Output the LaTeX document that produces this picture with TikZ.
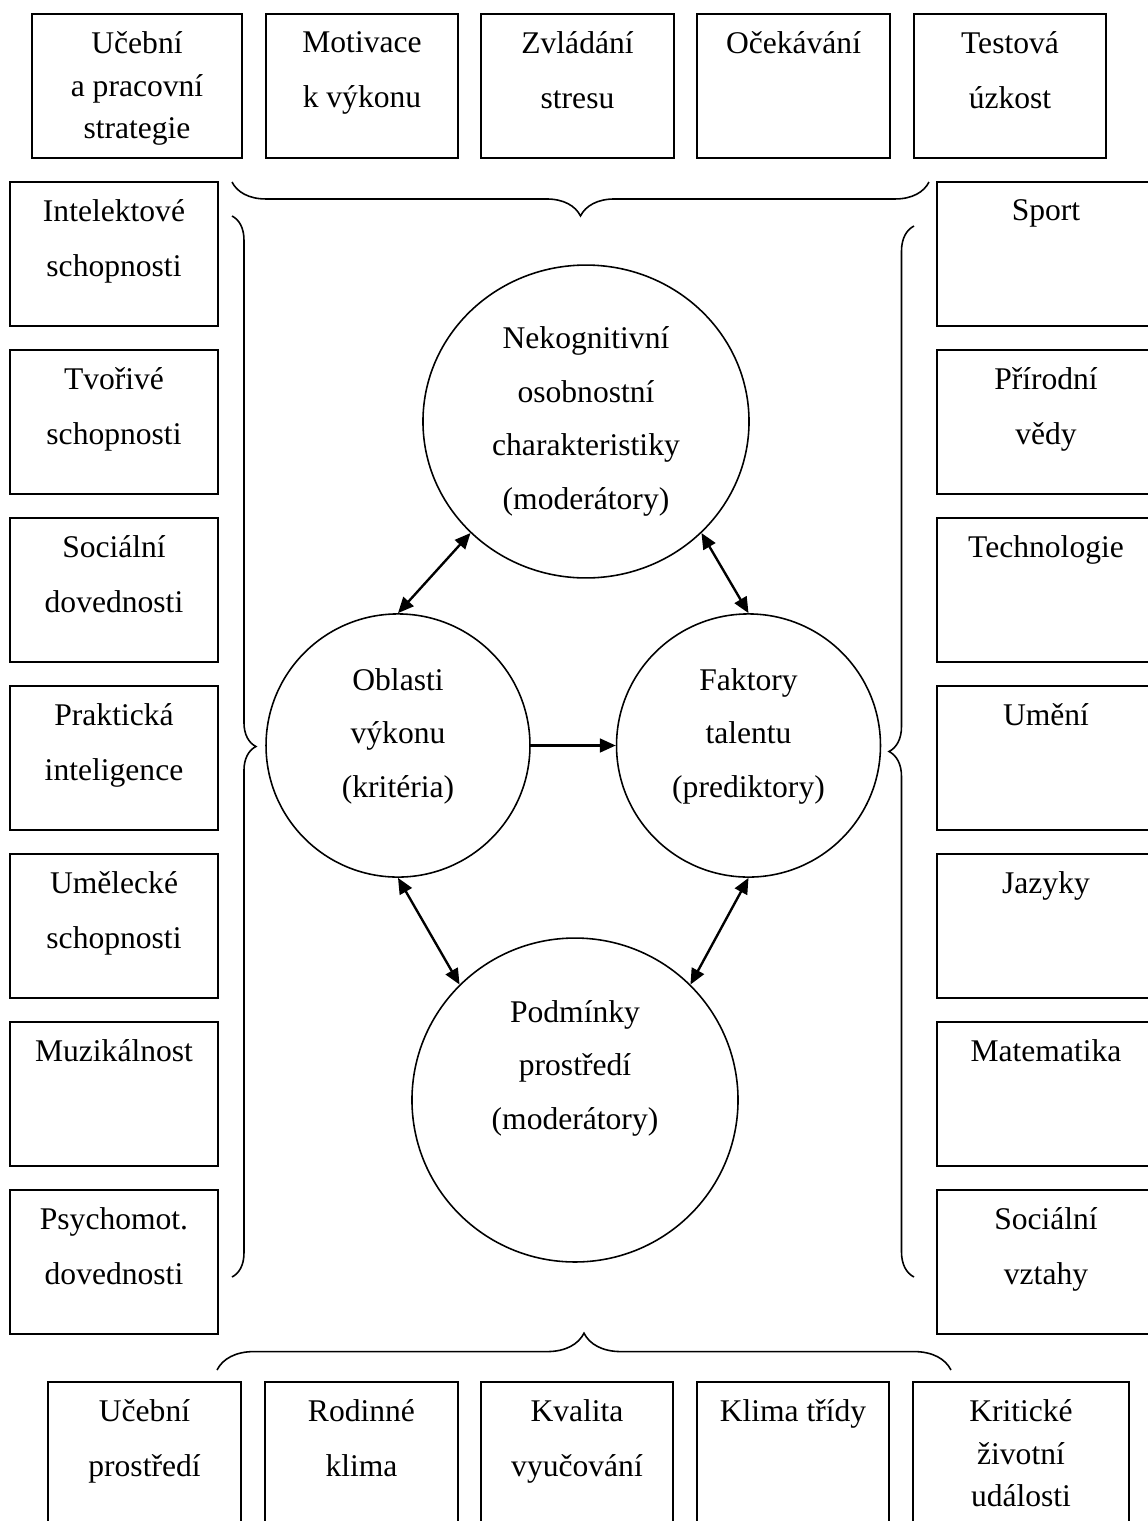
\documentclass[tikz,border=0pt]{standalone}
\usepackage{fontspec}
\setmainfont{Liberation Serif}
\usetikzlibrary{arrows.meta,shapes,positioning,decorations.pathreplacing}
\tikzstyle{box}=[draw,rectangle,line width=0.75pt,minimum height=54.7pt,inner sep=0pt]
\tikzstyle{box text}=[align=center,inner sep=0pt,font=\fontsize{12}{20.9}\selectfont]
\tikzstyle{area}=[draw,ellipse,line width=0.6pt,inner sep=0pt]
\tikzstyle{area text}=[box text,font=\fontsize{12}{20.4}\selectfont]
\tikzstyle{link}=[draw,line width=0.9pt,>={Triangle[length=6pt,width=5.2pt]}]
\tikzstyle{brace line}=[draw,line width=0.6pt,decorate]

\begin{document}
\begin{tikzpicture}[x=0.38pt,y=-0.38pt]
    \useasboundingbox (0,0) rectangle (1147,1521);

    % First we draw the boxes of the top row
    \foreach \pos/\name/\w/\txt in {{(137,86)/t1/79.8/Učební\\[-4.9pt]a pracovní\\[-4.9pt]strategie}, {(362,86)/t2/73.2/Motivace\\k výkonu}, {(577.5,86)/t3/73.3/Zvládání\\stresu}, {(793.5,86)/t4/73.3/Očekávání}, {(1010,86)/t5/73/Testová\\úzkost}}
    {
        \node[box,minimum width=\w pt] (\name) at \pos {};
        \node[box text,below=7pt of \name.north] (\name-t) {\txt};
    }

    % Left column
    \foreach \pos/\name/\txt in {{(114,254)/l1/Intelektové\\schopnosti}, {(114,422)/l2/Tvořivé\\schopnosti}, {(114,590)/l3/Sociální\\dovednosti}, {(114,758)/l4/Praktická\\inteligence}, {(114,926)/l5/Umělecké\\schopnosti}, {(114,1094)/l6/Muzikálnost}, {(114,1262)/l7/Psychomot.\\dovednosti}}
    {
        \node[box,minimum width=79pt] (\name) at \pos {};
        \node[box text,below=7pt of \name.north] (\name-t) {\txt};
    }

    % Right column
    \foreach \pos/\name/\txt in {{(1046,254)/r1/Sport}, {(1046,422)/r2/Přírodní\\vědy}, {(1046,590)/r3/Technologie}, {(1046,758)/r4/Umění}, {(1046,926)/r5/Jazyky}, {(1046,1094)/r6/Matematika}, {(1046,1262)/r7/Sociální\\vztahy}}
    {
        \node[box,minimum width=82.8pt] (\name) at \pos {};
        \node[box text,below=7pt of \name.north] (\name-t) {\txt};
    }

    % Bottom row
    \foreach \pos/\name/\w/\txt in {{(144.5,1454)/b1/73.3/Učební\\prostředí}, {(361.5,1454)/b2/73.3/Rodinné\\klima}, {(577,1454)/b3/73/Kvalita\\vyučování}, {(793,1454)/b4/73/Klima třídy}, {(1021,1454)/b5/82.1/Kritické\\[-4.9pt]životní\\[-4.9pt]události}}
    {
        \node[box,minimum width=\w pt] (\name) at \pos {};
        \node[box text,below=7pt of \name.north] (\name-t) {\txt};
    }

    % The four circles in the middle
    \node[area,minimum width=123.9pt,minimum height=118.9pt] (nek) at (586,421.5) {};
    \node[area text,below=23.4pt of nek.north] (nek-t) {Nekognitivní\\osobnostní\\charakteristiky\\(moderátory)};
    \node[area,minimum width=100.3pt,minimum height=100pt] (obl) at (398,745.5) {};
    \node[area text,below=20.7pt of obl.north] (obl-t) {Oblasti\\výkonu\\(kritéria)};
    \node[area,minimum width=100.3pt,minimum height=100pt] (fak) at (748.5,745.5) {};
    \node[area text,below=20.7pt of fak.north] (fak-t) {Faktory\\talentu\\(prediktory)};
    \node[area,minimum width=123.9pt,minimum height=123.1pt] (pod) at (575,1100) {};
    \node[area text,below=23.7pt of pod.north] (pod-t) {Podmínky\\prostředí\\(moderátory)};

    % Connect circles with arrows
    \path[link,<->] (obl.north) -- (nek.224);
    \path[link,<->] (nek.-44) -- (fak.north);
    \path[link,->] (obl.east) -- (fak.west);
    \path[link,<->] (obl.south) -- (pod.135);
    \path[link,<->] (fak.south) -- (pod.45);

    % Braces
    \coordinate (tb1) at (232,182);
    \coordinate (tb2) at (929,182);
    \coordinate (lb1) at (232,216);
    \coordinate (lb2) at (232,1277);
    \coordinate (rb1) at (914,226);
    \coordinate (rb2) at (914,1277);
    \coordinate (bb1) at (217,1370);
    \coordinate (bb2) at (951,1370);
    \path[brace line,decoration={brace,mirror,amplitude=12.9pt}] (tb1) -- (tb2);
    \path[brace line,decoration={brace,amplitude=9.1pt}] (lb1) -- (lb2);
    \path[brace line,decoration={brace,mirror,amplitude=9.5pt}] (rb1) -- (rb2);
    \path[brace line,decoration={brace,amplitude=14pt}] (bb1) -- (bb2);
\end{tikzpicture}
\end{document}
